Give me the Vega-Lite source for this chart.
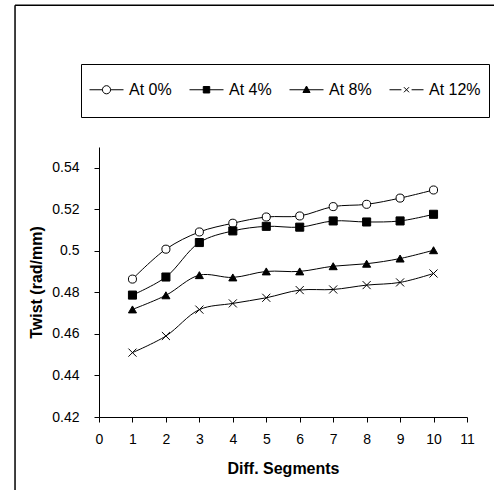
{
  "$schema": "https://vega.github.io/schema/vega-lite/v6.json",
  "autosize": "none",
  "width": 368,
  "height": 270,
  "padding": {"left": 99, "top": 147, "right": 27, "bottom": 73},
  "background": "white",
  "config": {
    "view": {"stroke": null},
    "font": "Liberation Sans",
    "axis": {
      "grid": false,
      "domainColor": "black",
      "domainWidth": 1,
      "tickColor": "black",
      "tickSize": 5,
      "tickWidth": 1,
      "labelColor": "black",
      "labelFont": "Liberation Sans",
      "labelFontSize": 14,
      "titleColor": "black",
      "titleFont": "Liberation Sans",
      "titleFontSize": 16,
      "titleFontWeight": "bold",
      "labelFlush": false
    },
    "axisX": {"labelPadding": 10, "titlePadding": 14},
    "axisY": {"labelPadding": 15, "titlePadding": 7},
    "legend": {
      "orient": "none",
      "legendX": -18,
      "legendY": -83,
      "direction": "horizontal",
      "columns": 4,
      "gridAlign": "all",
      "columnPadding": 6,
      "padding": 8,
      "strokeColor": "black",
      "fillColor": "white",
      "symbolSize": 1156,
      "symbolStrokeWidth": 1,
      "symbolOpacity": 1,
      "labelFont": "Liberation Sans",
      "labelFontSize": 16,
      "labelColor": "black",
      "labelOffset": 5,
      "labelLimit": 200
    }
  },
  "resolve": {
    "scale": {"shape": "independent", "fill": "independent"},
    "legend": {"shape": "independent", "fill": "independent"}
  },
  "datasets": {
    "twist": [
      {"segment": 1, "series": "At 0%", "twist": 0.4864},
      {"segment": 2, "series": "At 0%", "twist": 0.5008},
      {"segment": 3, "series": "At 0%", "twist": 0.5091},
      {"segment": 4, "series": "At 0%", "twist": 0.5133},
      {"segment": 5, "series": "At 0%", "twist": 0.5163},
      {"segment": 6, "series": "At 0%", "twist": 0.5168},
      {"segment": 7, "series": "At 0%", "twist": 0.5213},
      {"segment": 8, "series": "At 0%", "twist": 0.5224},
      {"segment": 9, "series": "At 0%", "twist": 0.5254},
      {"segment": 10, "series": "At 0%", "twist": 0.5293},
      {"segment": 1, "series": "At 4%", "twist": 0.4787},
      {"segment": 2, "series": "At 4%", "twist": 0.4874},
      {"segment": 3, "series": "At 4%", "twist": 0.504},
      {"segment": 4, "series": "At 4%", "twist": 0.5096},
      {"segment": 5, "series": "At 4%", "twist": 0.5118},
      {"segment": 6, "series": "At 4%", "twist": 0.5114},
      {"segment": 7, "series": "At 4%", "twist": 0.5144},
      {"segment": 8, "series": "At 4%", "twist": 0.5139},
      {"segment": 9, "series": "At 4%", "twist": 0.5144},
      {"segment": 10, "series": "At 4%", "twist": 0.5176},
      {"segment": 1, "series": "At 8%", "twist": 0.4718},
      {"segment": 2, "series": "At 8%", "twist": 0.4786},
      {"segment": 3, "series": "At 8%", "twist": 0.4883},
      {"segment": 4, "series": "At 8%", "twist": 0.4872},
      {"segment": 5, "series": "At 8%", "twist": 0.4901},
      {"segment": 6, "series": "At 8%", "twist": 0.4901},
      {"segment": 7, "series": "At 8%", "twist": 0.4926},
      {"segment": 8, "series": "At 8%", "twist": 0.4938},
      {"segment": 9, "series": "At 8%", "twist": 0.4963},
      {"segment": 10, "series": "At 8%", "twist": 0.5003},
      {"segment": 1, "series": "At 12%", "twist": 0.451},
      {"segment": 2, "series": "At 12%", "twist": 0.459},
      {"segment": 3, "series": "At 12%", "twist": 0.4717},
      {"segment": 4, "series": "At 12%", "twist": 0.4747},
      {"segment": 5, "series": "At 12%", "twist": 0.4774},
      {"segment": 6, "series": "At 12%", "twist": 0.4811},
      {"segment": 7, "series": "At 12%", "twist": 0.4814},
      {"segment": 8, "series": "At 12%", "twist": 0.4835},
      {"segment": 9, "series": "At 12%", "twist": 0.4848},
      {"segment": 10, "series": "At 12%", "twist": 0.4891}
    ]
  },
  "layer": [
    {
      "data": {"values": [{"frame": "left"}]},
      "mark": {"type": "rule", "color": "black", "strokeWidth": 1.5, "clip": false},
      "encoding": {
        "x": {"datum": -2.51, "type": "quantitative", "title": "Diff. Segments", "axis": {"values": [0, 1, 2, 3, 4, 5, 6, 7, 8, 9, 10, 11], "format": "d"}},
        "y": {"datum": 0.3847, "type": "quantitative", "title": "Twist (rad/mm)", "axis": {"values": [0.42, 0.44, 0.46, 0.48, 0.5, 0.52, 0.54], "format": ".2~f"}},
        "y2": {"datum": 0.6182}
      }
    },
    {
      "data": {"values": [{"frame": "top"}]},
      "mark": {"type": "rule", "color": "black", "strokeWidth": 1.5, "clip": false},
      "encoding": {
        "x": {"datum": -2.51, "type": "quantitative", "title": "Diff. Segments", "axis": {"values": [0, 1, 2, 3, 4, 5, 6, 7, 8, 9, 10, 11], "format": "d"}},
        "x2": {"datum": 11.85},
        "y": {"datum": 0.6182, "type": "quantitative", "title": "Twist (rad/mm)", "axis": {"values": [0.42, 0.44, 0.46, 0.48, 0.5, 0.52, 0.54], "format": ".2~f"}}
      }
    },
    {
      "data": {"name": "twist"},
      "mark": {"type": "line", "interpolate": "catmull-rom", "color": "black", "strokeWidth": 1},
      "encoding": {
        "x": {
          "field": "segment",
          "type": "quantitative",
          "title": "Diff. Segments",
          "scale": {"domain": [0, 11], "nice": false, "zero": false},
          "axis": {"values": [0, 1, 2, 3, 4, 5, 6, 7, 8, 9, 10, 11], "format": "d"}
        },
        "y": {
          "field": "twist",
          "type": "quantitative",
          "title": "Twist (rad/mm)",
          "scale": {"domain": [0.42, 0.55], "nice": false, "zero": false},
          "axis": {"values": [0.42, 0.44, 0.46, 0.48, 0.5, 0.52, 0.54], "format": ".2~f"}
        },
        "detail": {"field": "series"}
      }
    },
    {
      "data": {"name": "twist"},
      "mark": {"type": "point", "stroke": "black", "strokeWidth": 1, "size": 65, "opacity": 1},
      "encoding": {
        "x": {"field": "segment", "type": "quantitative", "title": "Diff. Segments", "axis": {"values": [0, 1, 2, 3, 4, 5, 6, 7, 8, 9, 10, 11], "format": "d"}},
        "y": {"field": "twist", "type": "quantitative", "title": "Twist (rad/mm)", "axis": {"values": [0.42, 0.44, 0.46, 0.48, 0.5, 0.52, 0.54], "format": ".2~f"}},
        "shape": {
          "field": "series",
          "type": "nominal",
          "title": null,
          "scale": {
            "domain": ["At 0%", "At 4%", "At 8%", "At 12%"],
            "range": ["circle", "square", "triangle-up", "M-1,-1L1,1M-1,1L1,-1"]
          },
          "legend": null
        },
        "fill": {
          "field": "series",
          "type": "nominal",
          "title": null,
          "scale": {
            "domain": ["At 0%", "At 4%", "At 8%", "At 12%"],
            "range": ["white", "black", "black", "black"]
          },
          "legend": null
        }
      }
    },
    {
      "data": {"name": "twist"},
      "mark": {"type": "point", "stroke": "black", "strokeWidth": 1, "size": 1156, "opacity": 0},
      "encoding": {
        "x": {"field": "segment", "type": "quantitative", "title": "Diff. Segments", "axis": {"values": [0, 1, 2, 3, 4, 5, 6, 7, 8, 9, 10, 11], "format": "d"}},
        "y": {"field": "twist", "type": "quantitative", "title": "Twist (rad/mm)", "axis": {"values": [0.42, 0.44, 0.46, 0.48, 0.5, 0.52, 0.54], "format": ".2~f"}},
        "shape": {
          "field": "series",
          "type": "nominal",
          "title": null,
          "scale": {
            "domain": ["At 0%", "At 4%", "At 8%", "At 12%"],
            "range": [
              "M0,-1M0,1M-1,0H-0.24M0.24,0H1M-0.24,0A0.24,0.24 0 1,0 0.24,0A0.24,0.24 0 1,0 -0.24,0Z",
              "M0,-1M0,1M-1,0H1M-0.19,-0.19H0.19V0.19H-0.19Z",
              "M0,-1M0,1M-1,0H1M0,-0.22L0.21,0.16H-0.21Z",
              "M0,-1M0,1M-1,0H-0.3M0.3,0H1M-0.15,-0.15L0.15,0.15M-0.15,0.15L0.15,-0.15"
            ]
          }
        },
        "fill": {
          "field": "series",
          "type": "nominal",
          "title": null,
          "scale": {
            "domain": ["At 0%", "At 4%", "At 8%", "At 12%"],
            "range": ["white", "black", "black", "black"]
          }
        }
      }
    }
  ]
}
